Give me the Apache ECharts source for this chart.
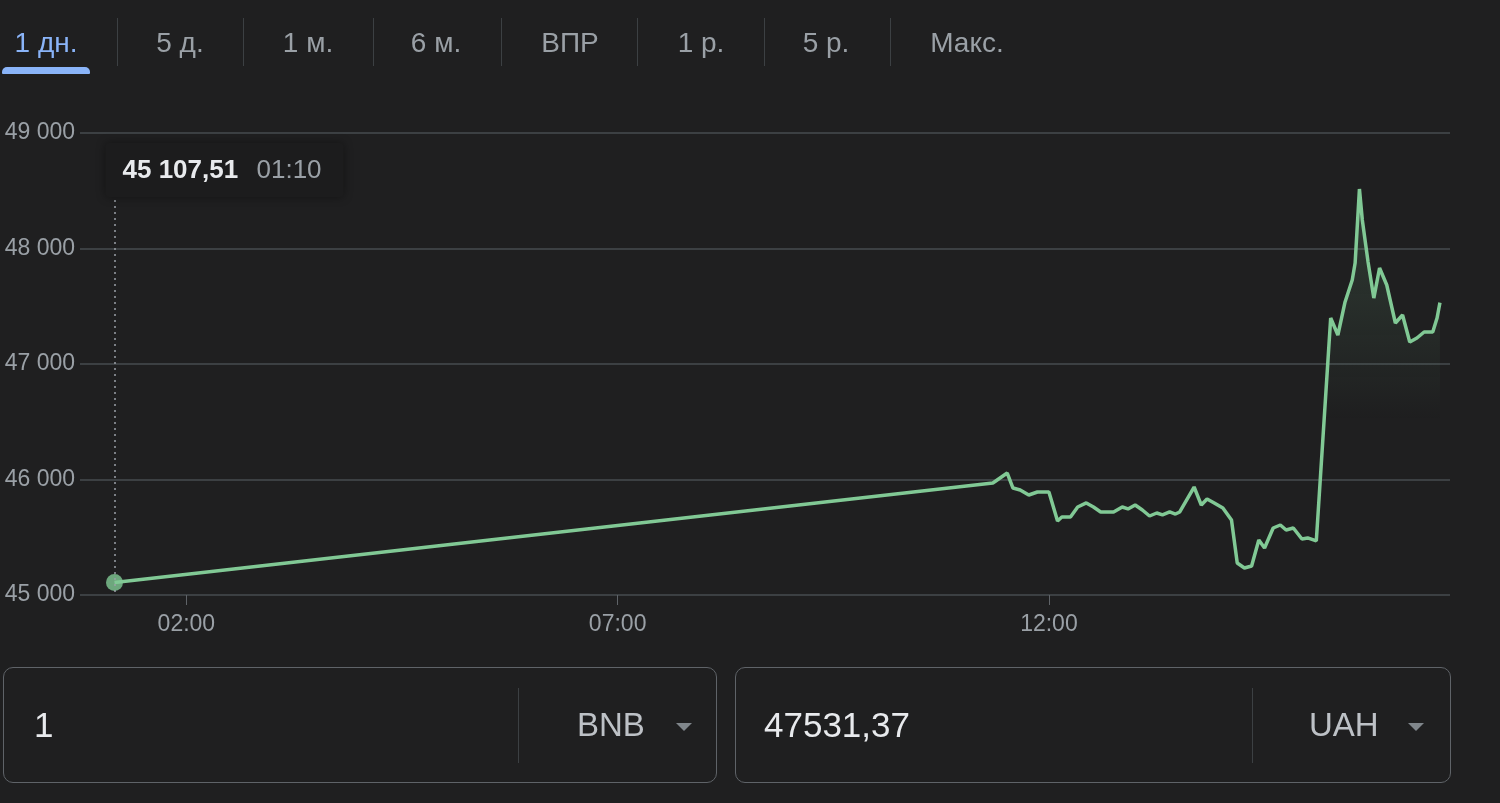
<!DOCTYPE html>
<html>
<head>
<meta charset="utf-8">
<script src="https://cdn.jsdelivr.net/npm/echarts@6/dist/echarts.min.js"></script>
<style>
  html, body { margin:0; padding:0; background:#1f1f20; width:1500px; height:803px; overflow:hidden; font-family:"Liberation Sans", Arial, sans-serif; }
  #chart { position:absolute; left:0; top:0; width:1500px; height:803px; }
  .tab { position:absolute; top:24px; font-size:28px; color:#9aa0a6; white-space:nowrap; line-height:38px; transform:translateX(-50%); }
  .tab.active { color:#8ab4f8; }
  .sep { position:absolute; top:18px; width:1px; height:48px; background:#3c4043; }
  .underline { position:absolute; left:2px; top:67px; width:88px; height:7px; background:#8ab4f8; border-radius:5px 5px 1px 1px; }
  .box { position:absolute; top:667px; height:116px; border:1.5px solid #5f6368; border-radius:10px; box-sizing:border-box; }
  .bsep { position:absolute; top:20px; width:1px; height:75px; background:#3c4043; }
  .btxt { position:absolute; top:36px; font-size:35px; color:#e8eaed; line-height:42px; }
  .cur { position:absolute; top:36px; font-size:33px; color:#bdc1c6; line-height:42px; }
  .tri { position:absolute; top:55px; width:0; height:0; border-left:8px solid transparent; border-right:8px solid transparent; border-top:8px solid #80868b; }
</style>
</head>
<body>
<div id="chart"></div>
<div id="tabs"></div>
<div id="conv"></div>
<script>
// ---------- data ----------
const tabLabels = ["1 дн.", "5 д.", "1 м.", "6 м.", "ВПР", "1 р.", "5 р.", "Макс."];
const times = ["01:10","11:21","11:31","11:35","11:40","11:46","11:52","12:00","12:06","12:09","12:15","12:20","12:26","12:31","12:36","12:45","12:51","12:55","13:00","13:05","13:10","13:15","13:19","13:24","13:28","13:31","13:41","13:46","13:50","13:55","14:01","14:07","14:11","14:16","14:21","14:26","14:30","14:36","14:41","14:45","14:50","14:56","15:00","15:06","15:16","15:21","15:26","15:31","15:33","15:36","15:38","15:42","15:46","15:50","15:55","16:01","16:06","16:11","16:16","16:21","16:27","16:30","16:32"];
const values = [45107.51,45970,46056,45926,45909,45866,45892,45892,45641,45675,45675,45762,45797,45762,45719,45719,45762,45745,45779,45736,45684,45710,45693,45719,45701,45719,45935,45779,45831,45797,45753,45649,45277,45234,45251,45476,45407,45580,45606,45563,45580,45485,45494,45468,47398,47251,47537,47727,47874,48515,48247,47883,47571,47831,47684,47355,47424,47190,47225,47277,47277,47398,47531.37];
const xTickLabels = ["02:00", "07:00", "12:00"];
const yTicks = [45000, 46000, 47000, 48000, 49000];
const fromAmount = "1";
const fromCur = "BNB";
const toCur = "UAH";

// ---------- helpers ----------
const toMin = s => { const p = s.split(":"); return (+p[0]) * 60 + (+p[1]); };
const fmtMin = m => { const h = Math.floor(m / 60), mm = Math.round(m % 60); return String(h).padStart(2, "0") + ":" + String(mm).padStart(2, "0"); };
const groupInt = n => String(n).replace(/\B(?=(\d{3})+(?!\d))/g, " ");
const fmtPrice = v => { const parts = v.toFixed(2).split("."); return groupInt(parts[0]) + "," + parts[1]; };

// ---------- tabs ----------
const tabCenters = [46, 180, 308, 436, 570, 701, 826, 967];
const sepX = [117, 243, 373, 501, 637, 764, 890];
const tabsEl = document.getElementById("tabs");
tabLabels.forEach((t, i) => {
  const d = document.createElement("div");
  d.className = "tab" + (i === 0 ? " active" : "");
  d.style.left = tabCenters[i] + "px";
  d.textContent = t;
  tabsEl.appendChild(d);
});
sepX.forEach(x => { const s = document.createElement("div"); s.className = "sep"; s.style.left = x + "px"; tabsEl.appendChild(s); });
const ul = document.createElement("div"); ul.className = "underline"; tabsEl.appendChild(ul);

// ---------- converter ----------
const conv = document.getElementById("conv");
function makeBox(left, width, amount, cur, sepLeft, curLeft, triLeft, amtLeft) {
  const b = document.createElement("div");
  b.className = "box"; b.style.left = left + "px"; b.style.width = width + "px";
  b.innerHTML = '<div class="btxt" style="left:' + amtLeft + 'px">' + amount + '</div>' +
    '<div class="bsep" style="left:' + sepLeft + 'px"></div>' +
    '<div class="cur" style="left:' + curLeft + 'px">' + cur + '</div>' +
    '<div class="tri" style="left:' + triLeft + 'px"></div>';
  conv.appendChild(b);
}
const lastVal = values[values.length - 1];
makeBox(3, 714, fromAmount, fromCur, 514, 573, 672, 30);
makeBox(735, 716, lastVal.toFixed(2).replace(".", ","), toCur, 516, 573, 672, 28);

// ---------- chart ----------
const seriesData = times.map((t, i) => [toMin(t), values[i]]);
const chart = echarts.init(document.getElementById("chart"), null, { renderer: "canvas" });
const green = "#81c995";
const xCustom = xTickLabels.map(toMin);

chart.setOption({
  backgroundColor: "transparent",
  animation: false,
  grid: { left: 80, right: 50, top: 133, bottom: 208, containLabel: false },
  xAxis: {
    type: "value", min: 46, max: 999,
    axisLine: { show: false },
    splitLine: { show: false },
    axisTick: { show: true, customValues: xCustom, length: 10, lineStyle: { color: "#5f6368", width: 1 } },
    axisLabel: { customValues: xCustom, formatter: v => fmtMin(v), color: "#9aa0a6", fontSize: 23, margin: 18, fontFamily: "Liberation Sans, Arial" }
  },
  yAxis: {
    type: "value", min: yTicks[0], max: yTicks[yTicks.length - 1], interval: 1000,
    axisLine: { show: false }, axisTick: { show: false },
    splitLine: { show: true, lineStyle: { color: "#3c4043", width: 2 } },
    axisLabel: { formatter: v => groupInt(v), color: "#9aa0a6", fontSize: 23, margin: 5, padding: [3, 0, 0, 0], fontFamily: "Liberation Sans, Arial" }
  },
  series: [
    {
      type: "line", data: seriesData, showSymbol: false, smooth: false,
      lineStyle: { color: green, width: 3.5 },
      areaStyle: {
        color: new echarts.graphic.LinearGradient(0, 0, 0, 1, [
          { offset: 0, color: "rgba(129,201,149,0.25)" },
          { offset: 0.57, color: "rgba(129,201,149,0)" },
          { offset: 1, color: "rgba(129,201,149,0)" }
        ])
      },
      markLine: {
        silent: true, symbol: ["none", "none"], label: { show: false },
        lineStyle: { color: "#9aa0a6", type: [2, 4], width: 1.5 },
        data: [[ { coord: [seriesData[0][0], 48420] }, { coord: [seriesData[0][0], yTicks[0]] } ]]
      },
      z: 2
    },
    {
      type: "scatter", data: [seriesData[0]], symbolSize: 17,
      itemStyle: { color: green }, z: 3, silent: true
    }
  ]
});

const p0 = chart.convertToPixel({ gridIndex: 0 }, seriesData[0]);
chart.setOption({
  graphic: [
    {
      type: "rect", left: p0[0] - 9, top: 143, shape: { width: 238, height: 54, r: 4 },
      style: { fill: "#1c1c1d", shadowBlur: 10, shadowColor: "rgba(0,0,0,0.4)" }, z: 10
    },
    {
      type: "text", left: p0[0] + 8, top: 158,
      style: { text: fmtPrice(values[0]), fill: "#e8eaed", font: "bold 26px 'Liberation Sans', Arial" }, z: 11
    },
    {
      type: "text", left: p0[0] + 142, top: 158,
      style: { text: times[0], fill: "#9aa0a6", font: "26px 'Liberation Sans', Arial" }, z: 11
    }
  ]
});
</script>
</body>
</html>
